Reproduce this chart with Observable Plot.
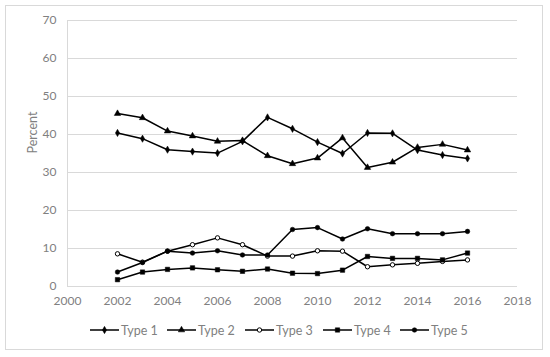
<!DOCTYPE html>
<html>
<head>
<meta charset="utf-8">
<script src="https://cdn.jsdelivr.net/npm/d3@7"></script>
<script src="https://cdn.jsdelivr.net/npm/@observablehq/plot@0.6"></script>
<style>
  html, body { margin: 0; padding: 0; background: #fff; }
  #wrap { position: relative; width: 550px; height: 357px; font-family: Lato, "Open Sans", sans-serif; }
  #frame { position: absolute; left: 5px; top: 5px; width: 536px; height: 343px; border: 1px solid #d9d9d9; }
  #chart { position: absolute; left: 0; top: 0; }
  #legend { position: absolute; left: 0; top: 322px; width: 550px; height: 16px; }
  .item { position: absolute; top: 0; height: 16px; display: flex; align-items: center; }
  .item span { font-size: 12.5px; color: #808080; margin-left: 2px; }
</style>
</head>
<body>
<div id="wrap">
  <div id="frame"></div>
  <div id="chart"></div>
  <div id="legend"></div>
</div>
<script>
const years = [2002, 2003, 2004, 2005, 2006, 2007, 2008, 2009, 2010, 2011, 2012, 2013, 2014, 2015, 2016];
const type1 = [40.4, 38.9, 36.0, 35.5, 35.1, 38.2, 44.5, 41.5, 38.0, 35.0, 40.4, 40.3, 35.9, 34.6, 33.7];
const type2 = [45.5, 44.4, 40.9, 39.6, 38.2, 38.4, 34.4, 32.3, 33.8, 39.1, 31.3, 32.7, 36.6, 37.4, 35.9];
const type3 = [8.6, 6.4, 9.3, 11.0, 12.8, 11.0, 8.0, 8.0, 9.4, 9.3, 5.2, 5.7, 6.1, 6.6, 7.0];
const type4 = [1.8, 3.8, 4.5, 4.9, 4.4, 4.0, 4.6, 3.5, 3.4, 4.3, 7.9, 7.4, 7.4, 7.0, 8.8];
const type5 = [3.8, 6.3, 9.3, 8.8, 9.4, 8.3, 8.3, 15.0, 15.5, 12.5, 15.2, 13.9, 13.9, 13.9, 14.5];
const seriesNames = ["Type 1", "Type 2", "Type 3", "Type 4", "Type 5"];
const xTicks = [2000, 2002, 2004, 2006, 2008, 2010, 2012, 2014, 2016, 2018];
const yTicks = [0, 10, 20, 30, 40, 50, 60, 70];

const seriesValues = [type1, type2, type3, type4, type5];
const styles = {
  "Type 1": {symbol: "diamond", fill: "black", r: 2.2},
  "Type 2": {symbol: "triangle", fill: "black", r: 2.4},
  "Type 3": {symbol: "circle", fill: "white", r: 2.2},
  "Type 4": {symbol: "square", fill: "black", r: 2.5},
  "Type 5": {symbol: "circle", fill: "black", r: 2.3}
};
const data = seriesNames.flatMap((name, i) =>
  years.map((year, j) => ({type: name, year, value: seriesValues[i][j]})));

const grid = "#d9d9d9";
const chart = Plot.plot({
  width: 550,
  height: 316,
  marginLeft: 67,
  marginRight: 33,
  marginTop: 20,
  marginBottom: 30,
  style: {fontFamily: "Lato, 'Open Sans', sans-serif", fontSize: "12px", color: "#808080", background: "transparent"},
  x: {domain: [2000, 2018]},
  y: {domain: [0, 70]},
  marks: [
    Plot.gridY(yTicks, {stroke: grid, strokeOpacity: 1, strokeWidth: 1}),
    Plot.ruleX([2000], {stroke: grid, strokeWidth: 1}),
    Plot.axisY(yTicks, {tickSize: 0, tickPadding: 11, label: null, fontSize: 12}),
    Plot.axisX(xTicks, {tickSize: 0, tickPadding: 10, label: null, tickFormat: d => String(d), fontSize: 12}),
    Plot.text(["Percent"], {frameAnchor: "left", dx: -35, rotate: -90, fontSize: 12.5, fill: "#808080"}),
    Plot.line(data, {x: "year", y: "value", z: "type", stroke: "black", strokeWidth: 1.5}),
    ...seriesNames.map(name => Plot.dot(data.filter(d => d.type === name), {
      x: "year", y: "value",
      symbol: styles[name].symbol, r: styles[name].r,
      fill: styles[name].fill, stroke: "black", strokeWidth: name === "Type 3" ? 1 : 0.5
    }))
  ]
});
document.getElementById("chart").appendChild(chart);

// legend
const legend = document.getElementById("legend");
const lefts = [90, 167, 245, 323, 400];
const symMap = {diamond: d3.symbolDiamond, triangle: d3.symbolTriangle, circle: d3.symbolCircle, square: d3.symbolSquare};
seriesNames.forEach((name, i) => {
  const st = styles[name];
  const item = document.createElement("div");
  item.className = "item";
  item.style.left = lefts[i] + "px";
  const path = d3.symbol(symMap[st.symbol], Math.PI * st.r * st.r)();
  item.innerHTML = `<svg width="29" height="16"><line x1="0" x2="29" y1="8" y2="8" stroke="black" stroke-width="1.5"/>` +
    `<path transform="translate(14.5,8)" d="${path}" fill="${st.fill}" stroke="black" stroke-width="${name === "Type 3" ? 1 : 0.5}"/></svg>` +
    `<span>${name}</span>`;
  legend.appendChild(item);
});
</script>
</body>
</html>
